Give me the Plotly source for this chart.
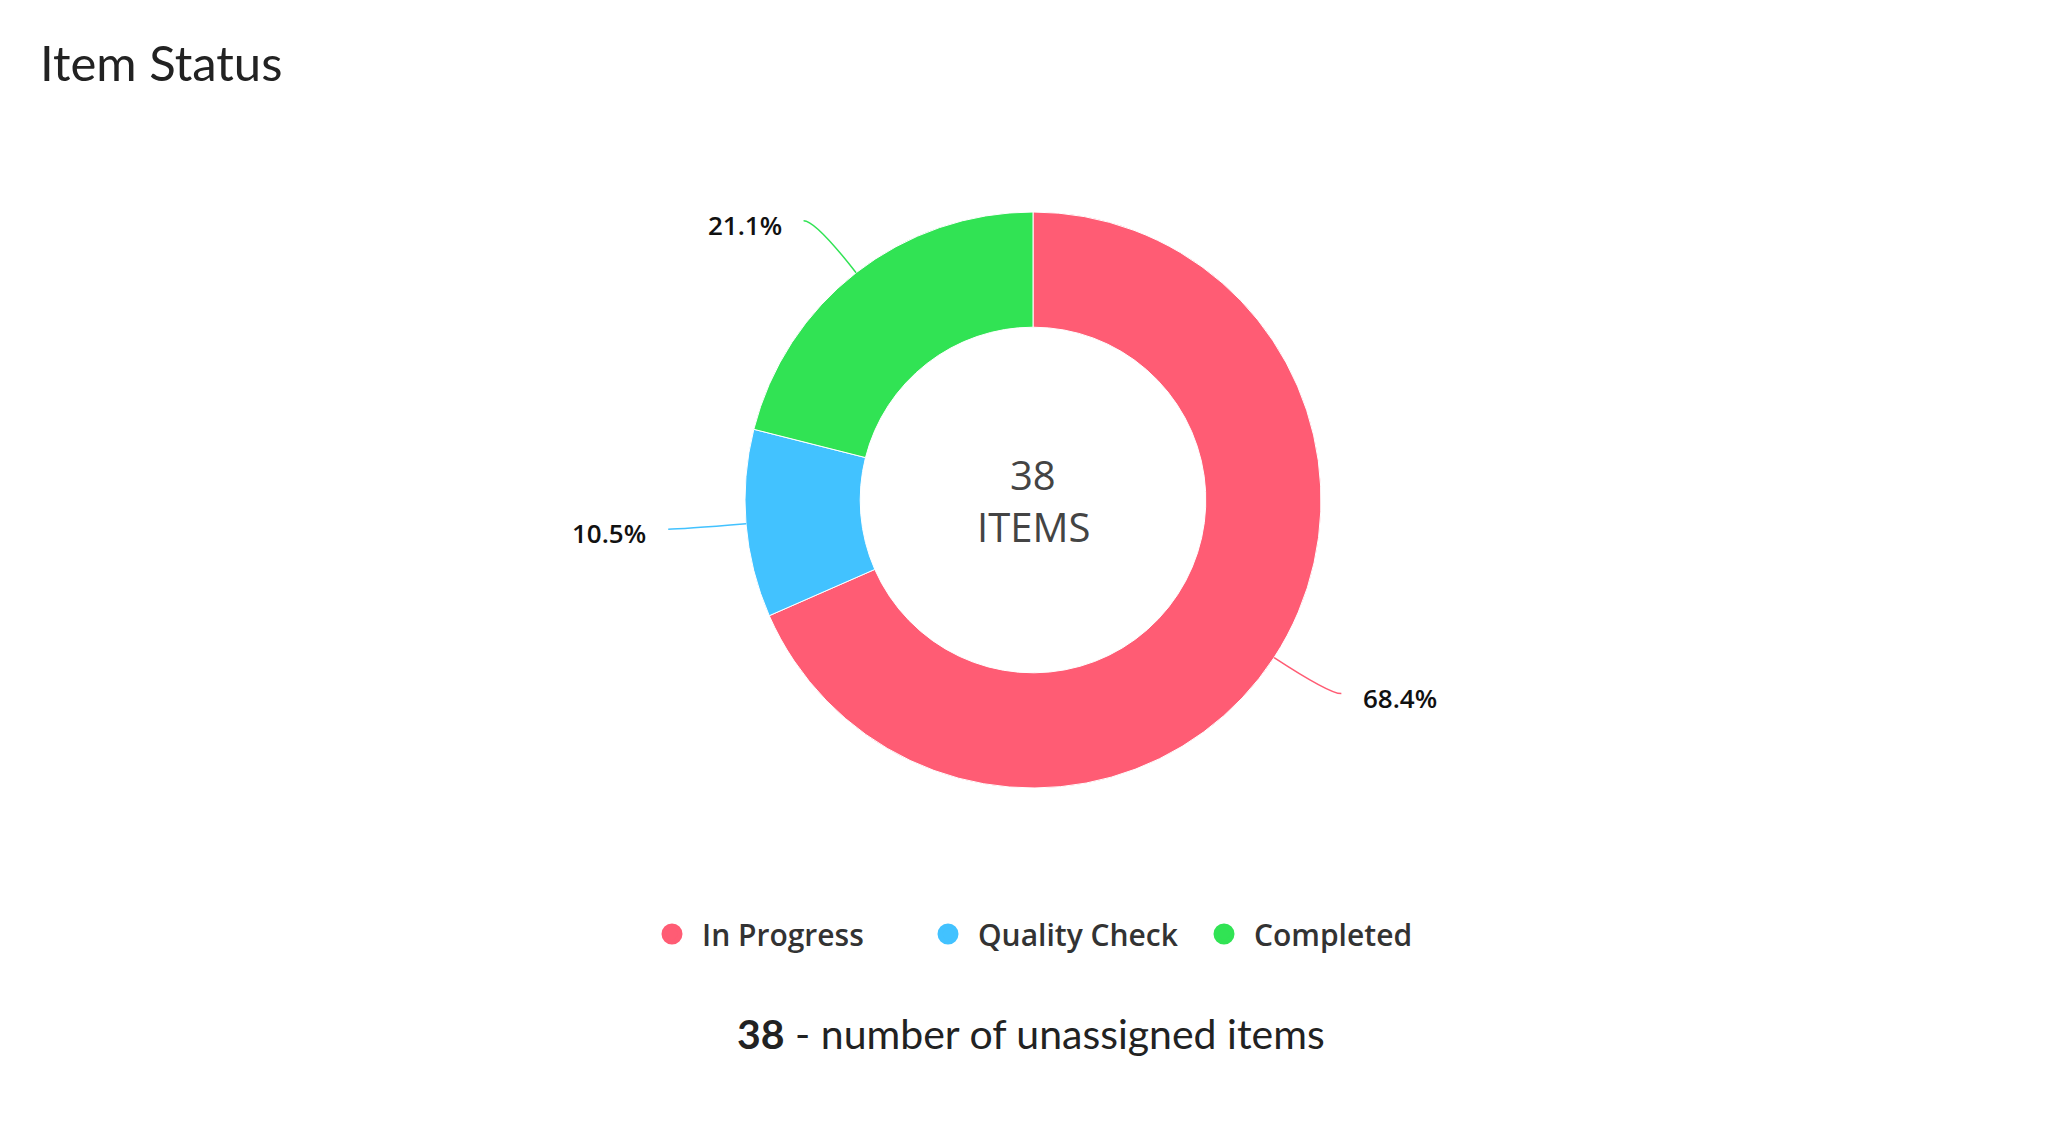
import math
import plotly.graph_objects as go

# chart data
labels = ['In Progress', 'Quality Check', 'Completed']
counts = [26, 4, 8]
colors = ['#FF5C74', '#42C2FF', '#31E354']

title_text = 'Item Status'
center_unit = 'ITEMS'
footer_text = 'number of unassigned items'

W, H = 2067, 1125
# the page puts the plot a little down and right of the window corner
OX, OY = 13, 11

# donut placement in pixels
cx, cy, R = 1038, 503, 288
hole = 0.6


def paper(px, py):
    return (px - OX) / W, 1 - (py - OY) / H


total = sum(counts)

fig = go.Figure()

dom_x0, dom_y0 = paper(cx - R, cy + R)
dom_x1, dom_y1 = paper(cx + R, cy - R)

fig.add_trace(go.Pie(
    labels=labels,
    values=counts,
    hole=hole,
    sort=False,
    direction='clockwise',
    rotation=0,
    marker=dict(colors=colors, line=dict(color='white', width=1)),
    textinfo='none',
    showlegend=False,
    domain=dict(x=[dom_x0, dom_x1], y=[dom_y0, dom_y1]),
))

# legend entries with round markers
for lab, col in zip(labels, colors):
    fig.add_trace(go.Scatter(
        x=[None], y=[None], mode='markers', name=lab,
        marker=dict(color=col, size=16, symbol='circle',
                    line=dict(color=col, width=5)),
    ))

# leader lines and percentage labels, placed from each slice's mid angle
shapes = []
annotations = []
cum = 0
for val, col in zip(counts, colors):
    mid = (cum + val / 2) / total
    cum += val
    ang = 2 * math.pi * mid  # clockwise from 12 o'clock
    dx, dy = math.sin(ang), -math.cos(ang)
    side = 1 if dx >= 0 else -1
    x1, y1 = cx + R * dx, cy + R * dy
    x2, y2 = cx + (R + 66) * dx, cy + (R + 66) * dy
    x3, y3 = x2 + 12 * side, y2
    p1 = paper(x1, y1)
    p2 = paper(x2, y2)
    p3 = paper(x3, y3)
    shapes.append(dict(
        type='path', xref='paper', yref='paper',
        path='M %f,%f Q %f,%f %f,%f' % (p1[0], p1[1], p2[0], p2[1], p3[0], p3[1]),
        line=dict(color=col, width=1.5),
    ))
    lx, ly = paper(x3 + 20 * side, y3 + 4)
    annotations.append(dict(
        x=lx, y=ly, xref='paper', yref='paper',
        text='%.1f%%' % (100 * val / total),
        showarrow=False,
        xanchor='left' if side > 0 else 'right', yanchor='middle',
        font=dict(family='Open Sans', size=26, color='#111111', weight=600),
    ))

# center label, two lines
for txt, off in [(str(total), -26), (center_unit, 26)]:
    px_, py_ = paper(cx, cy + off)
    annotations.append(dict(
        x=px_, y=py_, xref='paper', yref='paper',
        text=txt,
        showarrow=False, xanchor='center', yanchor='middle',
        font=dict(family='Open Sans', size=40, color='#444444'),
    ))

# footer
fx, fy = paper(1036, 1036)
annotations.append(dict(
    x=fx, y=fy, xref='paper', yref='paper',
    text='<b>%d</b> - %s' % (total, footer_text),
    showarrow=False, xanchor='center', yanchor='middle',
    font=dict(family='Lato', size=41, color='#222222'),
))

tx, ty = paper(45, 67)
lgx, lgy = paper(1061, 937)

fig.update_layout(
    width=W, height=H,
    margin=dict(l=0, r=0, t=0, b=0),
    paper_bgcolor='white',
    plot_bgcolor='white',
    title=dict(text=title_text, x=tx, y=ty, xanchor='left', yanchor='middle',
               font=dict(family='Lato', size=49, color='#222222')),
    xaxis=dict(visible=False),
    yaxis=dict(visible=False),
    legend=dict(orientation='h', x=lgx, y=lgy, xanchor='center', yanchor='middle',
                font=dict(family='Open Sans', size=30, color='#333333', weight=600),
                itemwidth=50, entrywidth=211,
                itemclick=False, itemdoubleclick=False),
    shapes=shapes,
    annotations=annotations,
)

fig.write_html('out.html')
